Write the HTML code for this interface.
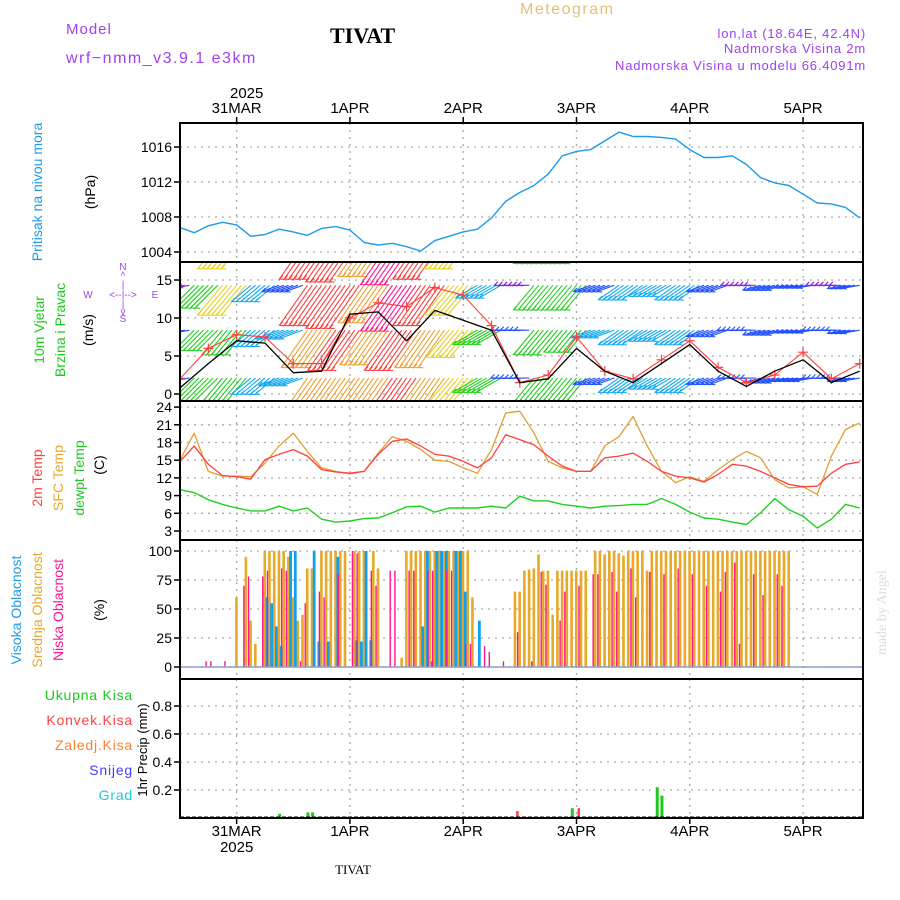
<!DOCTYPE html>
<html><head><meta charset="utf-8"><style>
html,body{margin:0;padding:0;background:#fff}
svg{display:block}
text{font-family:"Liberation Sans",sans-serif}
</style></head><body>
<svg id="chart" width="900" height="900" viewBox="0 0 900 900" xmlns="http://www.w3.org/2000/svg">
<defs><clipPath id="wclip"><rect x="180" y="262" width="683" height="139"/></clipPath></defs>
<rect width="900" height="900" fill="#fff"/>
<text x="66" y="34" fill="#a040f0" font-size="15" letter-spacing="1">Model</text>
<text x="66" y="63" fill="#a040f0" font-size="16" letter-spacing="1.5">wrf−nmm_v3.9.1 e3km</text>
<text x="330" y="43" style="font-family:'Liberation Serif',serif;font-weight:bold;font-size:22px" fill="#000">TIVAT</text>
<text x="520" y="14" fill="#e8bf78" font-size="16" letter-spacing="1.5">Meteogram</text>
<text x="866" y="38" text-anchor="end" fill="#a040f0" font-size="13" letter-spacing="0.8">lon,lat (18.64E, 42.4N)</text>
<text x="866" y="53" text-anchor="end" fill="#a040f0" font-size="13" letter-spacing="0.8">Nadmorska Visina 2m</text>
<text x="866" y="70" text-anchor="end" fill="#a040f0" font-size="13" letter-spacing="0.8">Nadmorska Visina u modelu 66.4091m</text>
<text x="230" y="98" font-size="15" fill="#000">2025</text>
<text x="353" y="874" text-anchor="middle" style="font-family:'Liberation Serif',serif;font-size:13px" fill="#000">TIVAT</text>
<text transform="translate(886,655) rotate(-90)" style="font-family:'Liberation Serif',serif;font-size:14px" fill="#d8e0d8">made by Angel</text>
<text transform="translate(42,192) rotate(-90)" text-anchor="middle" fill="#1e9be8" font-size="14">Pritisak na nivou mora</text>
<text transform="translate(95,192) rotate(-90)" text-anchor="middle" fill="#000" font-size="14">(hPa)</text>
<text transform="translate(44,330) rotate(-90)" text-anchor="middle" fill="#1ec81e" font-size="14">10m Vjetar</text>
<text transform="translate(65,330) rotate(-90)" text-anchor="middle" fill="#1ec81e" font-size="14">Brzina i Pravac</text>
<text transform="translate(93,330) rotate(-90)" text-anchor="middle" fill="#000" font-size="14">(m/s)</text>
<g fill="#a040f0" font-size="10" text-anchor="middle">
<text x="123" y="270">N</text><text x="123" y="279">^</text><text x="123" y="288">|</text>
<text x="88" y="298">W</text><text x="123" y="298">&lt;--|--&gt;</text><text x="155" y="298">E</text>
<text x="123" y="308">|</text><text x="123" y="315">v</text><text x="123" y="322">S</text>
</g>
<text transform="translate(42,478) rotate(-90)" text-anchor="middle" fill="#ff4040" font-size="14">2m Temp</text>
<text transform="translate(63,478) rotate(-90)" text-anchor="middle" fill="#e8a830" font-size="14">SFC Temp</text>
<text transform="translate(84,478) rotate(-90)" text-anchor="middle" fill="#1ec81e" font-size="14">dewpt Temp</text>
<text transform="translate(104,465) rotate(-90)" text-anchor="middle" fill="#000" font-size="14">(C)</text>
<text transform="translate(21,610) rotate(-90)" text-anchor="middle" fill="#1e9be8" font-size="14">Visoka Oblacnost</text>
<text transform="translate(42,610) rotate(-90)" text-anchor="middle" fill="#e8a830" font-size="14">Srednja Oblacnost</text>
<text transform="translate(63,610) rotate(-90)" text-anchor="middle" fill="#ff1493" font-size="14">Niska Oblacnost</text>
<text transform="translate(104,610) rotate(-90)" text-anchor="middle" fill="#000" font-size="14">(%)</text>
<g font-size="14" text-anchor="end" letter-spacing="0.8">
<text x="133" y="700" fill="#1ec81e">Ukupna Kisa</text>
<text x="133" y="725" fill="#ff4040">Konvek.Kisa</text>
<text x="133" y="750" fill="#ff8030">Zaledj.Kisa</text>
<text x="133" y="775" fill="#4040ff">Snijeg</text>
<text x="133" y="800" fill="#20c8d8">Grad</text>
</g>
<text transform="translate(147,750) rotate(-90)" text-anchor="middle" fill="#000" font-size="13">1hr Precip (mm)</text>
<g id="plots"></g>
</svg>
<script>
// ---- data ----
const dayLabels = ["31MAR","1APR","2APR","3APR","4APR","5APR"];
const dayHours = [12,36,60,84,108,132]; // hours since 30MAR 12Z
const pressure3h = [1006.8,1006.2,1007,1007.4,1007.1,1005.8,1006,1006.6,1006.3,1005.9,1006.7,1006.9,1006.5,1005.1,1004.8,1005,1004.6,1004.1,1005.3,1005.8,1006.3,1006.6,1007.9,1009.8,1010.8,1011.6,1012.9,1015,1015.5,1015.7,1016.7,1017.7,1017.2,1017.2,1017.1,1016.9,1015.7,1014.8,1014.8,1015,1014,1012.5,1011.9,1011.6,1010.6,1009.6,1009.5,1009.1,1007.9];
const pressureTicks = [1004,1008,1012,1016];
const windSpeed6h = [0.8,4,7,6.7,2.8,3,10.5,10.8,7,11,9.7,8.4,1.5,2,6,3,1.5,4,6.5,3,1,3,4.5,1.5,3];
const windGust6h = [2,6,7.8,7.5,4,4,10,12,11.5,14,13,9,1.5,2.5,7.5,3,2,4.5,7,3.5,1.5,2.5,5.5,2,4];
const barbTop6h = [1,7,9,5,3,12,13,11,14,12,9,5,1,7,7,3,5,4,5,3,1,3,2,1,3];
const barbMid6h = [2,6,7,5,5,11,12,10,12,11,8,6,2,7,6,4,5,4,5,3,2,3,2,2,3];
const barbLow6h = [2,7,7,5,4,10,11,10,12,11,9,6,2,7,7,3,5,4,5,3,2,3,3,2,3];
const barbDir6h = [10,45,50,40,20,55,55,55,55,55,50,30,0,50,50,20,35,30,35,20,0,15,10,0,10];
const windTicks = [0,5,10,15];
const temp2m3h = [14.8,17.4,14.3,12.4,12.2,11.8,15.1,16,16.8,15.7,13.4,13,12.8,13.1,16,18.2,18.6,17.4,16,15.7,14.8,13.7,15.4,19.3,18.5,17.6,15.7,14,13.1,13.1,15.4,15.7,16.2,14.8,13.1,12.3,12,11.3,12.6,14.3,14,13.1,12,10.9,10.5,10.6,12.8,14.3,14.7];
const tempSfc3h = [15,19.6,13.1,12.3,12.3,12.2,14.5,17.4,19.6,16.5,13.7,13.1,12.7,13.1,16.2,19,18.2,16.8,15,14.8,13.7,12.8,16.8,23,23.3,19.6,14.8,13.7,13.1,13.1,17.4,19,22.4,17.4,13.1,11.2,12.2,11.4,13.4,15.1,16.5,15.4,11.7,10.3,10.5,9.2,15.7,20.2,21.3];
const dewpt3h = [10,9.5,8.3,7.5,6.9,6.4,6.4,7.2,6.4,6.9,5,4.5,4.7,5.1,5.2,6.1,7.1,7.2,6.2,6.9,6.9,6.9,7.2,6.9,8.9,8.1,8.1,7.5,7.2,6.9,7.2,7.3,7.5,7.5,8.5,7.5,6.2,5.2,5,4.5,4.1,6.1,8.5,6.6,5.5,3.5,5,7.5,6.9];
const tempTicks = [3,6,9,12,15,18,21,24];
const cloudMid = [0,0,0,0,0,0,0,0,0,0,0,0,60,0,95,40,20,0,100,100,100,100,100,95,60,40,45,85,85,0,100,100,100,100,100,100,0,100,100,100,0,100,85,0,0,0,0,8,100,100,100,100,100,100,100,100,100,100,100,100,100,100,60,0,0,0,0,0,0,0,0,65,65,83,84,85,97,83,83,45,83,83,83,83,83,83,83,0,100,100,97,100,100,98,96,100,100,100,100,83,100,100,100,100,100,100,100,100,100,100,100,100,100,100,100,100,100,100,100,100,100,100,100,100,100,100,100,100,100,100,0,0,0,0,0,0,0,0,0,0,0,0,0,0,0];
const cloudHighHours = [18,19,20,21,23,24,28,29,31,33,37,38,39,40,51,52,53,54,55,56,58,59,60,63];
const cloudHighVals = [60,55,35,18,100,100,100,22,22,95,23,22,100,23,35,100,5,100,100,100,100,100,65,40];
const cloudLowHours = [5,6,9,13,14,17,18,21,22,25,26,29,30,33,36,37,40,41,44,45,48,49,52,53,56,57,60,61,64,65,68,71,74,76,77,80,81,84,87,88,91,92,95,96,99,102,105,108,111,114,115,117,118,121,123,126,127];
const cloudLowVals = [5,5,5,70,78,78,83,85,83,5,55,65,60,80,100,98,83,70,83,83,83,83,83,83,83,83,20,20,18,13,5,30,5,82,71,40,65,70,80,80,82,65,85,60,82,80,85,80,70,65,82,90,20,80,62,80,70];
const cloudTicks = [0,25,50,75,100];
const precipTotalHours = [21,27,28,31,33,35,83,100,101,102];
const precipTotalVals = [0.03,0.04,0.04,0.01,0.01,0.01,0.07,0.01,0.22,0.16];
const precipConvHours = [71,84];
const precipConvVals = [0.05,0.07];
const precipTicks = [0.2,0.4,0.6,0.8];

// ---- layout ----
const X0=180, X1=863, NH=144.7;
const xs = h => X0 + h*(X1-X0)/NH;
const panels = {p:[123,262],w:[262,401],t:[401,540],c:[540,679],r:[679,818]};
const yP = v => 147 + (1016-v)*8.75;
const yW = v => 394 - v*7.6;
const yT = v => 531 - (v-3)*5.9;
const yC = v => 667 - v*1.16;
const yR = v => 818 - v*140;
const NS="http://www.w3.org/2000/svg";
const root=document.getElementById('plots');
function mk(tag,attrs,parent){const e=document.createElementNS(NS,tag);for(const k in attrs)e.setAttribute(k,attrs[k]);(parent||root).appendChild(e);return e;}

const gg=mk('g',{});


for(const key in panels){const [a,b]=panels[key];
  dayHours.forEach(h=>{mk('line',{x1:xs(h),x2:xs(h),y1:a,y2:b,stroke:'#aaa','stroke-dasharray':'2,5','stroke-width':1.3},gg);});}
function hgrid(ticks,f,name,fmt){const g=mk('g',{});
  
  
  ticks.forEach(t=>{const y=f(t);mk('line',{x1:X0,x2:X1,y1:y,y2:y,stroke:'#aaa','stroke-dasharray':'2,5','stroke-width':1.3},g);
    mk('line',{x1:X0-6,x2:X0,y1:y,y2:y,stroke:'#000','stroke-width':1.5},g);
    const tx=mk('text',{x:X0-8,y:y+5,'text-anchor':'end','font-size':14,fill:'#000'},g);tx.textContent=fmt?fmt(t):t;});}
hgrid(pressureTicks,yP,'pressure-y-axis');
hgrid(windTicks,yW,'wind-y-axis');
hgrid(tempTicks,yT,'temp-y-axis');
hgrid(cloudTicks,yC,'cloud-y-axis');
hgrid(precipTicks,yR,'precip-y-axis',v=>v.toFixed(1));
dayLabels.forEach((d,i)=>{const x=xs(dayHours[i]);
  const t1=mk('text',{x:x,y:113,'text-anchor':'middle','font-size':15,fill:'#000'});t1.textContent=d;
  
  
  const t2=mk('text',{x:x,y:836,'text-anchor':'middle','font-size':15,fill:'#000'});t2.textContent=d;
  
  
  mk('line',{x1:x,x2:x,y1:818,y2:824,stroke:'#000','stroke-width':1.5});
  mk('line',{x1:x,x2:x,y1:117,y2:123,stroke:'#000','stroke-width':1.5});
});
const yr=mk('text',{x:xs(12),y:852,'text-anchor':'middle','font-size':15,fill:'#000'});yr.textContent='2025';



function line(arr,step,f,color,name,w,parent){const pts=arr.map((v,i)=>xs(i*step).toFixed(1)+','+f(v).toFixed(1)).join(' ');
  const p=mk('polyline',{points:pts,fill:'none',stroke:color,'stroke-width':w||1.3,'stroke-linejoin':'round'},parent);
  
  return p;}

line(pressure3h,3,yP,'#1e9be8','pressure-line',1.4);

// wind
function spColor(s){return s<2?'#9020e0':s<4?'#2050ff':s<6?'#10a8f0':s<8?'#20d020':s<10?'#e8d020':s<12?'#f0a030':s<14?'#ff3c3c':'#ff1493';}
const wg=mk('g',{'clip-path':'url(#wclip)'});


const bg=mk('g',{'stroke-width':1.1},wg);


[[barbTop6h,yW(20.4)],[barbTop6h,yW(14.3)],[barbMid6h,yW(8.4)],[barbLow6h,yW(2.1)]].forEach(([arr,ry])=>{
  for(let h=0;h<=144;h++){const k=Math.min(24,Math.round(h/6));const s=arr[k];const a=barbDir6h[k]*Math.PI/180;
    const L=s*3.4+8;const x=xs(h);const ex=x-L*Math.cos(a),ey=ry+L*Math.sin(a);
    const col=spColor(s);
    mk('line',{x1:x,y1:ry,x2:ex,y2:ey,stroke:col},bg);
    mk('path',{d:`M${ex+3.5},${ey-3.5}L${ex},${ey}L${ex+5},${ey+0.5}`,fill:'none',stroke:col},bg);
  }});
line(windGust6h,6,yW,'#ff4040','wind-gust-line',1.1,wg);
const gm=mk('g',{stroke:'#ff4040','stroke-width':1.2},wg);


windGust6h.forEach((v,i)=>{const x=xs(i*6),y=yW(v);mk('path',{d:`M${x-5},${y}h10M${x},${y-5}v10`},gm);});
line(windSpeed6h,6,yW,'#000','wind-speed-line',1.3,wg);

// temperature
line(tempSfc3h,3,yT,'#e0a030','sfc-temp-line',1.3);
line(temp2m3h,3,yT,'#ff4040','temp-2m-line',1.3);
line(dewpt3h,3,yT,'#20d020','dewpt-line',1.4);

// clouds
const cg=mk('g',{});


cloudMid.forEach((v,h)=>{if(v>0){mk('rect',{x:xs(h)-1.5,y:yC(v),width:2.6,height:yC(0)-yC(v),fill:'#e8a828'},cg);}});
cloudHighHours.forEach((h,i)=>{const v=cloudHighVals[i];mk('rect',{x:xs(h)+0.6,y:yC(v),width:2.8,height:yC(0)-yC(v),fill:'#10a0f0'},cg);});
cloudLowHours.forEach((h,i)=>{const v=cloudLowVals[i];mk('rect',{x:xs(h)+1.8,y:yC(v),width:1.4,height:yC(0)-yC(v),fill:'#ff1493'},cg);});
mk('line',{x1:X0,x2:X1,y1:yC(0),y2:yC(0),stroke:'#8aa0c8','stroke-width':1.5});

// precip
const pg=mk('g',{});


precipTotalHours.forEach((h,i)=>{const v=precipTotalVals[i];mk('rect',{x:xs(h)-1,y:yR(v),width:3,height:yR(0)-yR(v),fill:'#20c820'},pg);});
precipConvHours.forEach((h,i)=>{const v=precipConvVals[i];mk('rect',{x:xs(h)+1,y:yR(v),width:2.5,height:yR(0)-yR(v),fill:'#ff4040'},pg);});
mk('line',{x1:X0,x2:X1,y1:817,y2:817,stroke:'#000','stroke-width':1,'stroke-dasharray':'4,2'});

for(const key in panels){const [a,b]=panels[key];
  const r=mk('rect',{x:X0,y:a,width:X1-X0,height:b-a,fill:'none',stroke:'#000','stroke-width':2});
  
  }
</script>
</body></html>
